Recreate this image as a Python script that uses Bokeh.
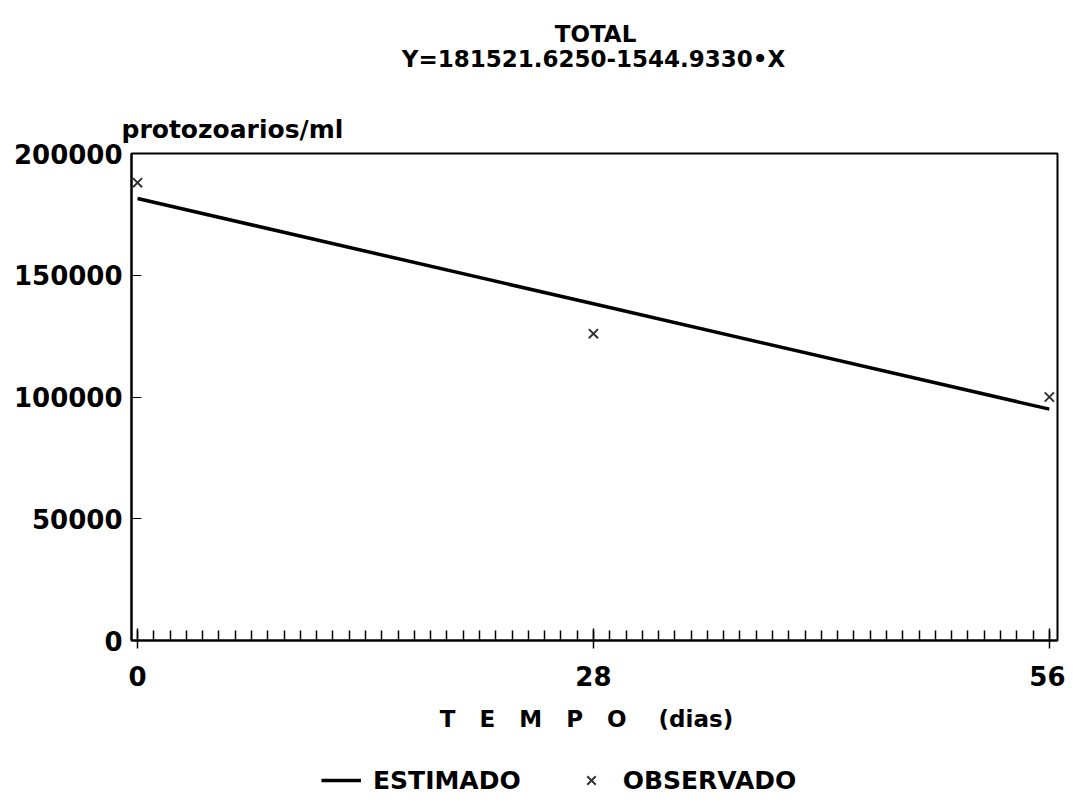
from bokeh.plotting import figure
from bokeh.models import Range1d, FixedTicker, Legend, LegendItem, Label
from bokeh.layouts import column
from bokeh.embed import file_html
from bokeh.resources import INLINE

# Data
dias_obs = [0, 28, 56]
observado = [188000, 126000, 100000]
dias_est = [0, 28, 56]
estimado = [181522, 138264, 95006]
x_ticks = [0, 28, 56]
x_minor = list(range(0, 57))
y_ticks = [0, 50000, 100000, 150000, 200000]

titulo = "TOTAL"
equacao = "Y=181521.6250-1544.9330•X"
y_label = "protozoarios/ml"
NB = "\u00a0"
x_label = (NB * 3).join(["T", "E", "M", "P", "O"]) + NB * 4 + "(dias)" + NB * 2

FONT = "DejaVu Sans"
W = 1065
FL, FR = 131, 1057   # frame edges (shared by all stacked figures)


def bare(fig):
    fig.axis.visible = False
    fig.xgrid.visible = False
    fig.ygrid.visible = False
    fig.outline_line_color = None
    return fig


# ---- header (titles) ----
HH = 90
head = bare(figure(width=W, height=HH, output_backend="svg", toolbar_location=None,
                   x_range=Range1d(FL, FR), y_range=Range1d(HH, 0),
                   min_border_left=FL, min_border_right=W - FR, min_border_top=0,
                   min_border_bottom=0, border_fill_color="white"))
head.add_layout(Label(x=595, y=33, text=titulo, text_font=FONT, text_font_style="bold",
                      text_font_size="23px", text_color="black",
                      text_align="center", text_baseline="middle"))
head.add_layout(Label(x=593, y=58, text=equacao, text_font=FONT, text_font_style="bold",
                      text_font_size="23px", text_color="black",
                      text_align="center", text_baseline="middle"))

# ---- main plot ----
p = figure(width=W, height=640 - HH + 100, output_backend="svg", toolbar_location=None,
           x_range=Range1d(-0.37, 56.5), y_range=Range1d(0, 200000),
           min_border_left=FL, min_border_right=W - FR, min_border_top=153 - HH,
           min_border_bottom=100, background_fill_color="white",
           border_fill_color="white")
p.outline_line_color = "black"
p.outline_line_width = 2
p.xgrid.visible = False
p.ygrid.visible = False
p.title.text = y_label
p.title.align = "left"
p.title.offset = -10
p.title.standoff = 19
p.title.text_font = FONT
p.title.text_font_style = "bold"
p.title.text_font_size = "25px"
p.title.text_color = "black"

xa = p.xaxis[0]
xa.ticker = FixedTicker(ticks=x_ticks, minor_ticks=x_minor)
xa.major_tick_in = 12
xa.major_tick_out = 8
xa.minor_tick_in = 10
xa.minor_tick_out = 0
xa.major_tick_line_width = 1.5
xa.minor_tick_line_width = 1.5
xa.major_tick_line_color = "black"
xa.minor_tick_line_color = "black"
xa.axis_line_width = 2
xa.axis_line_color = "black"
xa.major_label_text_font = FONT
xa.major_label_text_font_style = "bold"
xa.major_label_text_font_size = "26px"
xa.major_label_text_color = "black"
xa.major_label_standoff = 17
xa.axis_label = x_label
xa.axis_label_text_font = FONT
xa.axis_label_text_font_style = "bold"
xa.axis_label_text_font_size = "23px"
xa.axis_label_text_color = "black"
xa.axis_label_standoff = 17

ya = p.yaxis[0]
ya.ticker = FixedTicker(ticks=y_ticks)
ya.major_tick_in = 10
ya.major_tick_out = 0
ya.minor_tick_in = 0
ya.minor_tick_out = 0
ya.major_tick_line_color = "black"
ya.axis_line_width = 2
ya.axis_line_color = "black"
ya.major_label_text_font = FONT
ya.major_label_text_font_style = "bold"
ya.major_label_text_font_size = "26px"
ya.major_label_text_color = "black"
ya.major_label_standoff = 9
ya.formatter.use_scientific = False

LINE_STYLE = dict(line_color="black", line_width=3.5)
MARK_STYLE = dict(marker="x", size=13, line_color="#333333", line_width=2)
p.line(dias_est, estimado, **LINE_STYLE)
p.scatter(dias_obs, observado, **MARK_STYLE)

# ---- legend strip (same series, drawn outside its visible range) ----
LH = 60
leg = bare(figure(width=W, height=LH, output_backend="svg", toolbar_location=None,
                  x_range=Range1d(-1000, -999), y_range=Range1d(-1000, -999),
                  min_border_left=FL, min_border_right=W - FR, min_border_top=0,
                  min_border_bottom=0, border_fill_color="white"))
ln = leg.line(dias_est, estimado, **LINE_STYLE)
sc = leg.scatter(dias_obs, observado, **MARK_STYLE)
legend = Legend(items=[LegendItem(label="ESTIMADO", renderers=[ln]),
                       LegendItem(label="OBSERVADO", renderers=[sc])],
                orientation="horizontal", location=(321 - FL, 5),
                glyph_width=40, glyph_height=30, label_standoff=12, spacing=50,
                label_text_font=FONT, label_text_font_style="bold",
                label_text_font_size="25px", label_text_color="black",
                border_line_color=None, background_fill_alpha=0,
                margin=0, padding=5)
leg.add_layout(legend, "center")

layout = column(head, p, leg, spacing=0)
open("out.html", "w").write(file_html(layout, INLINE))
